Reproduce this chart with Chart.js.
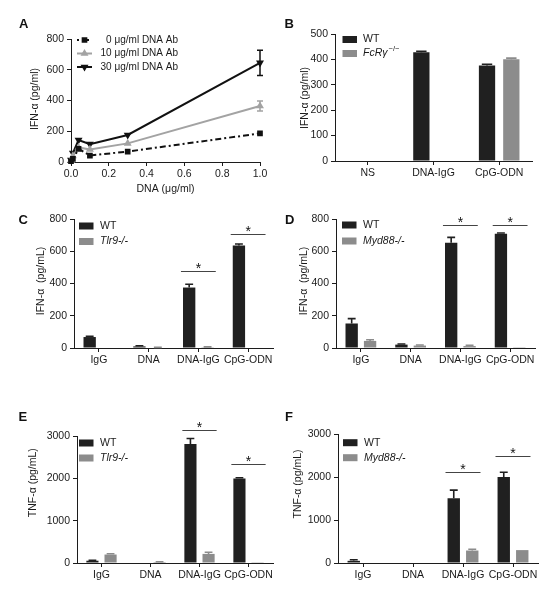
<!DOCTYPE html>
<html><head><meta charset="utf-8">
<script src="https://cdn.jsdelivr.net/npm/chart.js@4.4.0/dist/chart.umd.min.js"></script>
<style>
html,body{margin:0;padding:0;background:#fff;}
#wrap{position:relative;width:551px;height:600px;overflow:hidden;background:#fff;}
canvas{position:absolute;display:block;}
</style></head><body>
<div id="wrap">
<canvas id="cA" width="275" height="200" style="left:0;top:0"></canvas>
<canvas id="cB" width="276" height="200" style="left:275px;top:0"></canvas>
<canvas id="cC" width="275" height="200" style="left:0;top:200px"></canvas>
<canvas id="cD" width="276" height="200" style="left:275px;top:200px"></canvas>
<canvas id="cE" width="275" height="200" style="left:0;top:400px"></canvas>
<canvas id="cF" width="276" height="200" style="left:275px;top:400px"></canvas>
</div>
<script>
// ---------- DATA ----------
// Panel A
const doseDNA = [0, 0.01, 0.04, 0.1, 0.3, 1.0];
const ifnAb0  = [5, 20, 85, 42, 68, 186];
const ifnAb10 = [10, 40, 95, 82, 121, 364];
const ifnAb30 = [13, 58, 143, 116, 176, 645];
const errAb10 = [0, 0, 0, 0, 0, 33];
const errAb30 = [0, 0, 0, 0, 0, 82];
const seriesA = ['0 \u03bcg/ml DNA Ab', '10 \u03bcg/ml DNA Ab', '30 \u03bcg/ml DNA Ab'];
const ticksAy = [0, 200, 400, 600, 800];
const ticksAx = [0, 0.2, 0.4, 0.6, 0.8, 1.0];

// Panel B
const catsB = ['NS', 'DNA-IgG', 'CpG-ODN'];
const wtB = [0, 428, 376];
const wtErrB = [0, 4, 5];
const fcrB = [0, 0, 401];
const fcrErrB = [0, 0, 4];

// Panels C-F share categories
const catsStim = ['IgG', 'DNA', 'DNA-IgG', 'CpG-ODN'];
// Panel C  IFN-a, WT vs Tlr9-/-
const wtC = [68, 10, 375, 635];
const wtErrC = [5, 4, 20, 10];
const tlr9C = [0, 3, 5, 0];
const tlr9ErrC = [0, 1, 2, 0];
const sigCatC = [2, 3];
const sigLevelC = [480, 710];
// Panel D  IFN-a, WT vs Myd88-/-
const wtD = [152, 21, 653, 708];
const wtErrD = [30, 4, 33, 5];
const myd88D = [44, 15, 12, 5];
const myd88ErrD = [7, 4, 5, 0];
const sigCatD = [2, 3];
const sigLevelD = [762, 762];
// Panel E  TNF-a, WT vs Tlr9-/-
const wtE = [54, 0, 2810, 1995];
const wtErrE = [12, 0, 130, 20];
const tlr9E = [200, 23, 215, 5];
const tlr9ErrE = [20, 8, 38, 0];
const sigCatE = [2, 3];
const sigLevelE = [3150, 2350];
// Panel F  TNF-a, WT vs Myd88-/-
const wtF = [50, 0, 1505, 2000];
const wtErrF = [25, 0, 190, 110];
const myd88F = [0, 0, 290, 300];
const myd88ErrF = [0, 0, 30, 0];
const sigCatF = [2, 3];
const sigLevelF = [2120, 2480];

// ---------- STYLE ----------
const FONT = "'Liberation Sans', Arial, Helvetica, sans-serif";
const AX = '#1c1c1c';
const WT_COL = '#202020';
const KO_COL = '#8c8c8c';
const GREY_A = '#a3a3a3';

Chart.defaults.font.family = FONT;
Chart.defaults.font.size = 10.5;
Chart.defaults.color = '#1a1a1a';
Chart.defaults.animation = false;
Chart.defaults.plugins.legend.display = false;
Chart.defaults.plugins.tooltip.enabled = false;

function yAxis(max, step, width) {
  return {
    min: 0, max: max,
    ticks: { stepSize: step, padding: 3, color: '#1a1a1a', callback: v => String(v) },
    grid: { display: true, drawOnChartArea: false, drawTicks: true, tickLength: 4, color: AX, lineWidth: 1 },
    border: { display: true, color: AX, width: 1 },
    afterFit(s) { s.width = width; }
  };
}

function drawYTitle(ctx, text, x, y) {
  ctx.save();
  ctx.translate(x, y);
  ctx.rotate(-Math.PI / 2);
  ctx.font = '10.5px ' + FONT;
  ctx.fillStyle = '#1a1a1a';
  ctx.textAlign = 'center';
  ctx.textBaseline = 'middle';
  ctx.fillText(text, 0, 0);
  ctx.restore();
}
function drawLetter(ctx, letter, x, y) {
  ctx.save();
  ctx.font = 'bold 13px ' + FONT;
  ctx.fillStyle = '#111';
  ctx.textAlign = 'left';
  ctx.textBaseline = 'alphabetic';
  ctx.fillText(letter, x, y);
  ctx.restore();
}

// ---------- PANEL A ----------
function pts(xs, ys) { return xs.map((x, i) => ({ x: x, y: ys[i] })); }

const plugA = {
  id: 'decorA',
  afterDatasetsDraw(chart) {
    const ctx = chart.ctx, ys = chart.scales.y;
    const errs = [null, errAb10, errAb30];
    errs.forEach((e, di) => {
      if (!e) return;
      const meta = chart.getDatasetMeta(di);
      const ds = chart.data.datasets[di];
      meta.data.forEach((p, i) => {
        if (!e[i]) return;
        const v = ds.data[i].y;
        const t = ys.getPixelForValue(v + e[i]);
        const b = ys.getPixelForValue(v - e[i]);
        ctx.save();
        ctx.strokeStyle = ds.borderColor;
        ctx.lineWidth = 1.5;
        ctx.beginPath();
        ctx.moveTo(p.x, t); ctx.lineTo(p.x, b);
        ctx.moveTo(p.x - 3, t); ctx.lineTo(p.x + 3, t);
        ctx.moveTo(p.x - 3, b); ctx.lineTo(p.x + 3, b);
        ctx.stroke();
        ctx.restore();
      });
    });
  },
  afterDraw(chart) {
    const ctx = chart.ctx;
    drawLetter(ctx, 'A', 19, 28);
    drawYTitle(ctx, 'IFN-\u03b1 (pg/ml)', 35, 99);
    ctx.save();
    ctx.font = '10.5px ' + FONT;
    ctx.fillStyle = '#1a1a1a';
    ctx.textAlign = 'center';
    ctx.textBaseline = 'middle';
    ctx.fillText('DNA (\u03bcg/ml)', 165.5, 189);
    // legend
    const rows = [40, 53.5, 67];
    chart.data.datasets.forEach((ds, i) => {
      const y = rows[i];
      ctx.save();
      ctx.strokeStyle = ds.borderColor;
      ctx.lineWidth = 2;
      if (ds.borderDash) ctx.setLineDash([2, 3]);
      ctx.beginPath(); ctx.moveTo(77, y); ctx.lineTo(92, y); ctx.stroke();
      ctx.setLineDash([]);
      ctx.fillStyle = ds.pointBackgroundColor;
      ctx.strokeStyle = ds.pointBackgroundColor;
      Chart.helpers.drawPoint(ctx, { pointStyle: ds.pointStyle, radius: ds.pointRadius, rotation: ds.pointRotation || 0, borderWidth: 1 }, 84.5, y);
      ctx.restore();
      ctx.font = '10px ' + FONT;
      ctx.textAlign = 'right';
      ctx.fillStyle = '#1a1a1a';
      ctx.fillText(seriesA[i], 178, y);
    });
    ctx.restore();
  }
};

new Chart(document.getElementById('cA'), {
  type: 'line',
  data: {
    datasets: [
      { label: seriesA[0], data: pts(doseDNA, ifnAb0), borderColor: '#111', backgroundColor: '#111',
        borderWidth: 2, borderDash: [6, 3, 2, 3], pointStyle: 'rect', pointRadius: 2.6,
        pointBackgroundColor: '#111', pointBorderColor: '#111', clip: false },
      { label: seriesA[1], data: pts(doseDNA, ifnAb10), borderColor: GREY_A, backgroundColor: GREY_A,
        borderWidth: 2, pointStyle: 'triangle', pointRadius: 2.6,
        pointBackgroundColor: GREY_A, pointBorderColor: GREY_A, clip: false },
      { label: seriesA[2], data: pts(doseDNA, ifnAb30), borderColor: '#111', backgroundColor: '#111',
        borderWidth: 2, pointStyle: 'triangle', pointRotation: 180, pointRadius: 2.6,
        pointBackgroundColor: '#111', pointBorderColor: '#111', clip: false }
    ]
  },
  options: {
    responsive: false, animation: false,
    layout: { padding: { left: 0, top: 39, right: 15, bottom: 0 } },
    scales: {
      x: {
        type: 'linear', min: 0, max: 1,
        afterBuildTicks(s) { s.ticks = ticksAx.map(v => ({ value: v })); },
        ticks: { padding: 2, callback: v => Number(v).toFixed(1) },
        grid: { display: true, drawOnChartArea: false, drawTicks: true, tickLength: 4, color: AX },
        border: { display: true, color: AX, width: 1 },
        afterFit(s) { s.height = 38; }
      },
      y: Object.assign(yAxis(800, 200, 71), {
        afterBuildTicks(s) { s.ticks = ticksAy.map(v => ({ value: v })); }
      })
    }
  },
  plugins: [plugA]
});

// ---------- BAR PANELS ----------
function barPanel(id, cfg) {
  const decor = {
    id: 'decor' + cfg.letter,
    afterDatasetsDraw(chart) {
      const ctx = chart.ctx, xs = chart.scales.x, ys = chart.scales.y;
      cfg.errors.forEach((errs, di) => {
        const meta = chart.getDatasetMeta(di);
        const ds = chart.data.datasets[di];
        meta.data.forEach((bar, i) => {
          const e = errs[i];
          if (!e) return;
          const top = ys.getPixelForValue(ds.data[i] + e);
          const half = bar.width * 0.32;
          ctx.save();
          ctx.strokeStyle = ds.backgroundColor;
          ctx.lineWidth = 1.6;
          ctx.beginPath();
          ctx.moveTo(bar.x, bar.y); ctx.lineTo(bar.x, top);
          ctx.moveTo(bar.x - half, top); ctx.lineTo(bar.x + half, top);
          ctx.stroke();
          ctx.restore();
        });
      });
      if (cfg.sigCats) {
        const cw = xs.width / cfg.labels.length;
        cfg.sigCats.forEach((c, k) => {
          const cx = xs.getPixelForValue(c);
          const y = Math.round(ys.getPixelForValue(cfg.sigLevels[k])) + 0.5;
          ctx.save();
          ctx.strokeStyle = '#444';
          ctx.lineWidth = 1;
          ctx.beginPath();
          ctx.moveTo(cx - 0.35 * cw, y); ctx.lineTo(cx + 0.35 * cw, y);
          ctx.stroke();
          ctx.font = '14px ' + FONT;
          ctx.fillStyle = '#111';
          ctx.textAlign = 'center';
          ctx.textBaseline = 'alphabetic';
          ctx.fillText('*', cx, y + 1);
          ctx.restore();
        });
      }
    },
    afterDraw(chart) {
      const ctx = chart.ctx;
      drawLetter(ctx, cfg.letter, cfg.letterPos[0], cfg.letterPos[1]);
      drawYTitle(ctx, cfg.yTitle, cfg.titlePos[0], cfg.titlePos[1]);
      const L = cfg.legendPos;
      ctx.save();
      chart.data.datasets.forEach((ds, i) => {
        const y = L.rows[i];
        ctx.fillStyle = ds.backgroundColor;
        ctx.fillRect(L.x, y - 3.5, 14.5, 7);
        ctx.fillStyle = '#1a1a1a';
        ctx.textAlign = 'left';
        ctx.textBaseline = 'middle';
        ctx.font = (i === 1 ? 'italic ' : '') + '10.5px ' + FONT;
        ctx.fillText(ds.label, L.tx, y);
        if (i === 1 && cfg.koSup) {
          const w = ctx.measureText(ds.label).width;
          ctx.font = '7.5px ' + FONT;
          ctx.fillText(cfg.koSup, L.tx + w + 1, y - 4.5);
        }
      });
      ctx.restore();
    }
  };
  return new Chart(document.getElementById(id), {
    type: 'bar',
    data: {
      labels: cfg.labels,
      datasets: [
        { label: 'WT', data: cfg.wt, backgroundColor: WT_COL, borderWidth: 0,
          categoryPercentage: 0.74, barPercentage: 0.67 },
        { label: cfg.koLabel, data: cfg.ko, backgroundColor: KO_COL, borderWidth: 0,
          categoryPercentage: 0.74, barPercentage: 0.67 }
      ]
    },
    options: {
      responsive: false, animation: false,
      layout: { padding: { left: 0, top: cfg.area.top, right: cfg.area.right, bottom: 0 } },
      scales: {
        x: {
          type: 'category', offset: true,
          ticks: { padding: 2, autoSkip: false, maxRotation: 0, color: '#1a1a1a' },
          grid: { offset: false, display: true, drawOnChartArea: false, drawTicks: true, tickLength: 4, color: AX },
          border: { display: true, color: AX, width: 1 },
          afterFit(s) { s.height = cfg.area.xh; }
        },
        y: yAxis(cfg.ymax, cfg.ystep, cfg.area.left)
      }
    },
    plugins: [decor]
  });
}

barPanel('cB', {
  letter: 'B', letterPos: [9.5, 28], labels: catsB, wt: wtB, ko: fcrB, errors: [wtErrB, fcrErrB],
  koLabel: 'FcR\u03b3', koSup: '\u2212/\u2212', yTitle: 'IFN-\u03b1 (pg/ml)', titlePos: [30, 98],
  ymax: 500, ystep: 100, area: { left: 60, top: 34, right: 19, xh: 39 },
  legendPos: { x: 67.5, tx: 88, rows: [39.5, 53.5] }
});
barPanel('cC', {
  letter: 'C', letterPos: [18.5, 24], labels: catsStim, wt: wtC, ko: tlr9C, errors: [wtErrC, tlr9ErrC],
  koLabel: 'Tlr9-/-', yTitle: 'IFN-\u03b1  (pg/mL)', titlePos: [41.5, 81],
  ymax: 800, ystep: 200, area: { left: 74, top: 19, right: 2, xh: 52 },
  sigCats: sigCatC, sigLevels: sigLevelC,
  legendPos: { x: 79, tx: 100, rows: [26, 41.5] }
});
barPanel('cD', {
  letter: 'D', letterPos: [10, 24], labels: catsStim, wt: wtD, ko: myd88D, errors: [wtErrD, myd88ErrD],
  koLabel: 'Myd88-/-', yTitle: 'IFN-\u03b1  (pg/mL)', titlePos: [29.3, 81],
  ymax: 800, ystep: 200, area: { left: 61, top: 19, right: 16, xh: 52 },
  sigCats: sigCatD, sigLevels: sigLevelD,
  legendPos: { x: 67, tx: 88, rows: [25, 41] }
});
barPanel('cE', {
  letter: 'E', letterPos: [18.5, 20.5], labels: catsStim, wt: wtE, ko: tlr9E, errors: [wtErrE, tlr9ErrE],
  koLabel: 'Tlr9-/-', yTitle: 'TNF-\u03b1 (pg/mL)', titlePos: [33.3, 82.7],
  ymax: 3000, ystep: 1000, area: { left: 77, top: 36, right: 2, xh: 37 },
  sigCats: sigCatE, sigLevels: sigLevelE,
  legendPos: { x: 79, tx: 100, rows: [43, 58] }
});
barPanel('cF', {
  letter: 'F', letterPos: [10, 20.5], labels: catsStim, wt: wtF, ko: myd88F, errors: [wtErrF, myd88ErrF],
  koLabel: 'Myd88-/-', yTitle: 'TNF-\u03b1 (pg/mL)', titlePos: [23.3, 84],
  ymax: 3000, ystep: 1000, area: { left: 63, top: 34, right: 13, xh: 37 },
  sigCats: sigCatF, sigLevels: sigLevelF,
  legendPos: { x: 68, tx: 89, rows: [42.7, 57.7] }
});
</script>
</body></html>
